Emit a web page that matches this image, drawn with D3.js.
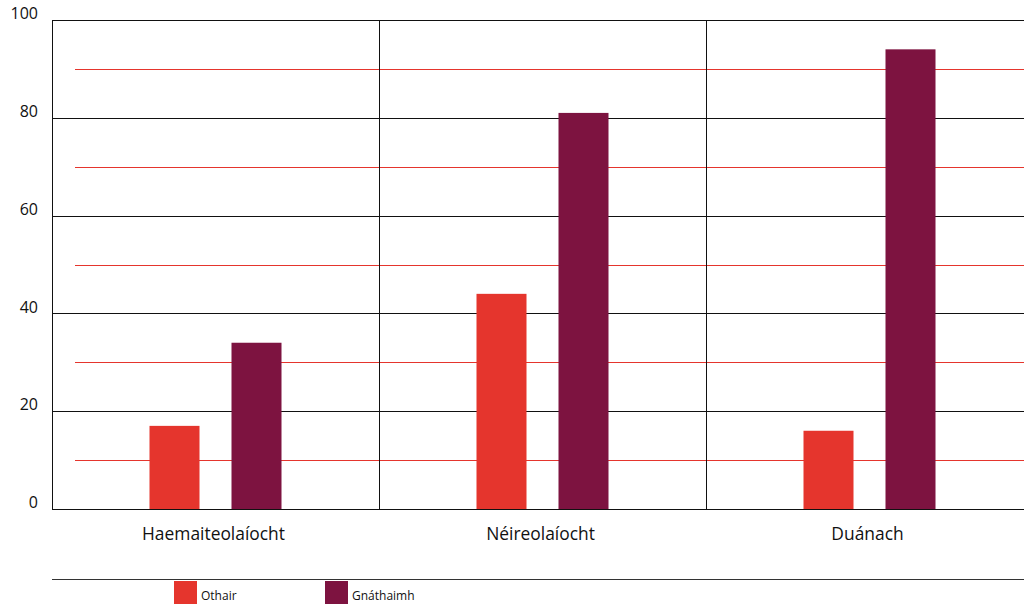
<!DOCTYPE html>
<html><head><meta charset="utf-8">
<script src="https://cdn.jsdelivr.net/npm/d3@7"></script>
<style>body{margin:0;background:#fff}svg{display:block;font-family:"Open Sans",sans-serif}</style>
</head><body>
<svg id="c" width="1024" height="604"></svg>
<script>
const categories = ["Haemaiteolaíocht", "Néireolaíocht", "Duánach"];
const seriesNames = ["Othair", "Gnáthaimh"];
const othair = [17, 44, 16];
const gnathaimh = [34, 81, 94];
const majorTicks = [0, 20, 40, 60, 80, 100];
const minorTicks = [10, 30, 50, 70, 90];
const colors = ["#E5352D", "#7D1340"];

const svg = d3.select("#c");
const L = 52, R = 1033, T = 20, B = 509;
const x = d3.scaleBand().domain(categories).range([L, R]);
const y = d3.scaleLinear().domain([0, 100]).range([B, T]);
const sub = d3.scaleOrdinal().domain(seriesNames).range([-41, 41]);
const bw = 50;

// minor red gridlines
svg.append("g").selectAll("line").data(minorTicks).join("line")
  .attr("x1", L + 23).attr("x2", 1024)
  .attr("y1", d => Math.round(y(d)) + 0.5).attr("y2", d => Math.round(y(d)) + 0.5)
  .attr("stroke", "#E5352D").attr("stroke-width", 1);

// major gridlines
svg.append("g").selectAll("line").data(majorTicks).join("line")
  .attr("x1", L).attr("x2", 1024)
  .attr("y1", d => Math.round(y(d)) + 0.5).attr("y2", d => Math.round(y(d)) + 0.5)
  .attr("stroke", "#111").attr("stroke-width", 1);

// vertical separators
svg.append("g").selectAll("line").data(categories.slice(1)).join("line")
  .attr("x1", d => Math.round(x(d)) + 0.5).attr("x2", d => Math.round(x(d)) + 0.5)
  .attr("y1", T).attr("y2", B).attr("stroke", "#111");
svg.append("line").attr("x1", L + 0.5).attr("x2", L + 0.5).attr("y1", T).attr("y2", B + 0.5).attr("stroke", "#111");

// bars
const series = [othair, gnathaimh];
series.forEach((vals, si) => {
  svg.append("g").selectAll("rect").data(vals).join("rect")
    .attr("x", (d, i) => x(categories[i]) + x.bandwidth() / 2 + sub(seriesNames[si]) - bw / 2)
    .attr("width", bw)
    .attr("y", d => y(d))
    .attr("height", d => B - y(d))
    .attr("fill", colors[si]);
});
// redraw baseline on top
svg.append("line").attr("x1", L).attr("x2", 1024).attr("y1", B + 0.5).attr("y2", B + 0.5).attr("stroke", "#111");

// y tick labels
svg.append("g").selectAll("text").data(majorTicks).join("text")
  .attr("x", 38).attr("y", d => y(d)).attr("dy", "-0.05em")
  .attr("text-anchor", "end").attr("font-size", 16).attr("fill", "#111")
  .text(d => d);

// category labels
svg.append("g").selectAll("text").data(categories).join("text")
  .attr("x", d => x(d) + x.bandwidth() / 2 - 2).attr("y", 540)
  .attr("text-anchor", "middle").attr("font-size", 17.4).attr("fill", "#111")
  .text(d => d);

// legend
svg.append("line").attr("x1", L).attr("x2", 1024).attr("y1", 579.5).attr("y2", 579.5).attr("stroke", "#333");
const lx = [174, 325];
seriesNames.forEach((n, i) => {
  svg.append("rect").attr("x", lx[i]).attr("y", 581).attr("width", 23).attr("height", 23).attr("fill", colors[i]);
  svg.append("text").attr("x", lx[i] + 27).attr("y", 600).attr("font-size", 12).attr("fill", "#111").text(n);
});
</script>
</body></html>
